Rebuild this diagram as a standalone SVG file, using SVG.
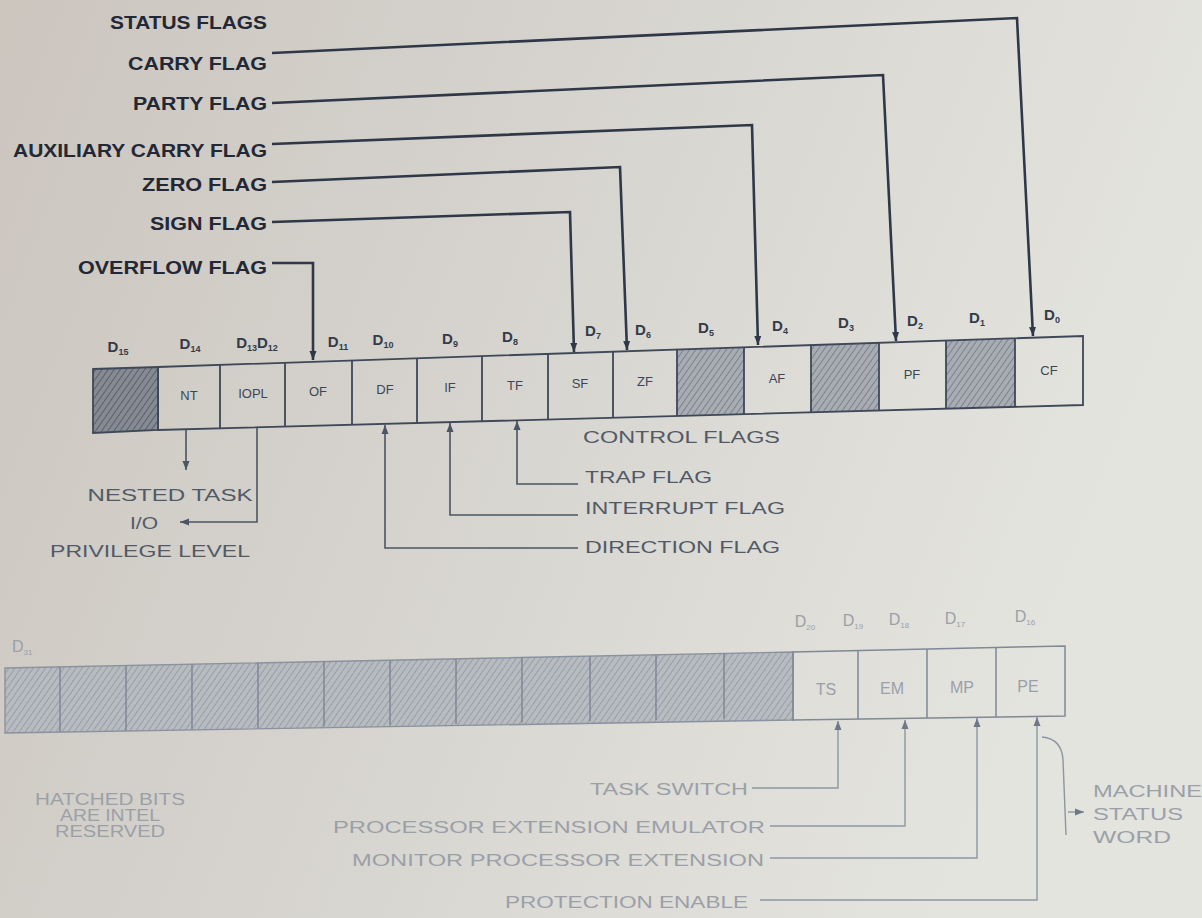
<svg xmlns="http://www.w3.org/2000/svg" width="1202" height="918" viewBox="0 0 1202 918">
<defs>
<linearGradient id="bg" x1="0" y1="0" x2="1" y2="0.3">
<stop offset="0" stop-color="#cbc5be"/>
<stop offset="0.55" stop-color="#d8d6d1"/>
<stop offset="1" stop-color="#e4e4df"/>
</linearGradient>
<pattern id="hatchDark" width="5" height="5" patternUnits="userSpaceOnUse" patternTransform="rotate(35)">
<rect width="5" height="5" fill="#868a92"/>
<line x1="0" y1="0" x2="0" y2="5" stroke="#5a606c" stroke-width="2"/>
</pattern>
<pattern id="hatch" width="5" height="5" patternUnits="userSpaceOnUse" patternTransform="rotate(35)">
<rect width="5" height="5" fill="#a9adb3"/>
<line x1="0" y1="0" x2="0" y2="5" stroke="#6f7785" stroke-width="1.6"/>
</pattern>
<pattern id="hatchLight" width="5" height="5" patternUnits="userSpaceOnUse" patternTransform="rotate(35)">
<rect width="5" height="5" fill="#b8bbbf"/>
<line x1="0" y1="0" x2="0" y2="5" stroke="#9097a2" stroke-width="1.6"/>
</pattern>
<marker id="arr" markerWidth="10" markerHeight="10" refX="9" refY="5" orient="auto" markerUnits="userSpaceOnUse">
<path d="M0,1.5 L9,5 L0,8.5 Z" fill="#2e3848"/>
</marker>
<marker id="arrMid" markerWidth="10" markerHeight="10" refX="9" refY="5" orient="auto" markerUnits="userSpaceOnUse">
<path d="M0,1.5 L9,5 L0,8.5 Z" fill="#4b5564"/>
</marker>
<marker id="arrFaint" markerWidth="10" markerHeight="10" refX="9" refY="5" orient="auto" markerUnits="userSpaceOnUse">
<path d="M0,1.5 L9,5 L0,8.5 Z" fill="#6f7889"/>
</marker>
</defs>
<style>
.lbl{font-family:"Liberation Sans",Arial,sans-serif;font-weight:bold;font-size:18px;fill:#232836;text-anchor:end}
.dl{font-family:"Liberation Sans",Arial,sans-serif;font-weight:bold;font-size:15px;fill:#343b4a;text-anchor:middle}
.sub{font-size:9px}
.cell{font-family:"Liberation Sans",Arial,sans-serif;font-size:13px;fill:#3d4656;text-anchor:middle}
.mid{font-family:"Liberation Sans",Arial,sans-serif;font-size:16px;fill:#525a68}
.faint{font-family:"Liberation Sans",Arial,sans-serif;font-size:16px;fill:#9ba0a8}
.conn{fill:none;stroke:#2e3848;stroke-width:2.6;marker-end:url(#arr)}
.connMid{fill:none;stroke:#4b5564;stroke-width:1.6;marker-end:url(#arrMid)}
.connFaint{fill:none;stroke:#8e96a3;stroke-width:1.4;marker-end:url(#arrFaint)}
.box{fill:none;stroke:#3e4858;stroke-width:1.8}
.boxF{fill:none;stroke:#7f8896;stroke-width:1.5}
</style>
<rect width="1202" height="918" fill="url(#bg)"/>

<g id="flag-labels">
<text class="lbl" x="267" y="29" textLength="157" lengthAdjust="spacingAndGlyphs">STATUS FLAGS</text>
<text class="lbl" x="267" y="70" textLength="139" lengthAdjust="spacingAndGlyphs">CARRY FLAG</text>
<text class="lbl" x="267" y="110" textLength="134" lengthAdjust="spacingAndGlyphs">PARTY FLAG</text>
<text class="lbl" x="267" y="157" textLength="254" lengthAdjust="spacingAndGlyphs">AUXILIARY CARRY FLAG</text>
<text class="lbl" x="267" y="191" textLength="125" lengthAdjust="spacingAndGlyphs">ZERO FLAG</text>
<text class="lbl" x="267" y="230" textLength="117" lengthAdjust="spacingAndGlyphs">SIGN FLAG</text>
<text class="lbl" x="267" y="274" textLength="189" lengthAdjust="spacingAndGlyphs">OVERFLOW FLAG</text>
</g>

<g id="bit-labels">
<text class="dl" x="118" y="352">D<tspan class="sub" dy="3">15</tspan></text>
<text class="dl" x="190" y="349">D<tspan class="sub" dy="3">14</tspan></text>
<text class="dl" x="257" y="348">D<tspan class="sub" dy="3">13</tspan><tspan dy="-3">D</tspan><tspan class="sub" dy="3">12</tspan></text>
<text class="dl" x="338" y="347">D<tspan class="sub" dy="3">11</tspan></text>
<text class="dl" x="383" y="345">D<tspan class="sub" dy="3">10</tspan></text>
<text class="dl" x="450" y="344">D<tspan class="sub" dy="3">9</tspan></text>
<text class="dl" x="510" y="342">D<tspan class="sub" dy="3">8</tspan></text>
<text class="dl" x="593" y="336">D<tspan class="sub" dy="3">7</tspan></text>
<text class="dl" x="643" y="335">D<tspan class="sub" dy="3">6</tspan></text>
<text class="dl" x="706" y="333">D<tspan class="sub" dy="3">5</tspan></text>
<text class="dl" x="780" y="331">D<tspan class="sub" dy="3">4</tspan></text>
<text class="dl" x="846" y="328">D<tspan class="sub" dy="3">3</tspan></text>
<text class="dl" x="915" y="326">D<tspan class="sub" dy="3">2</tspan></text>
<text class="dl" x="977" y="323">D<tspan class="sub" dy="3">1</tspan></text>
<text class="dl" x="1052" y="320">D<tspan class="sub" dy="3">0</tspan></text>
</g>

<g id="flags-register">
<polygon points="93,369 158,367 158,430 93,433" fill="url(#hatchDark)" stroke="#3e4858" stroke-width="1.8"/>
<polygon points="677,349.6 744,347.4 744,414.2 677,416" fill="url(#hatch)"/>
<polygon points="811,345.1 879,342.8 879,410.5 811,412.4" fill="url(#hatch)"/>
<polygon points="946,340.6 1015,338.3 1015,406.9 946,408.7" fill="url(#hatch)"/>
<polygon class="box" points="158,367 1083,336 1083,405 158,430"/>
<path class="box" d="M220,364.9V428.3 M285,362.7V426.6 M352,360.5V424.8 M417,358.3V423 M482,356.1V421.3 M548,353.9V419.5 M613,351.8V417.7 M677,349.6V416 M744,347.4V414.2 M811,345.1V412.4 M879,342.8V410.5 M946,340.6V408.7 M1015,338.3V406.9"/>
<text class="cell" x="189" y="400">NT</text>
<text class="cell" x="253" y="398" font-size="11">IOPL</text>
<text class="cell" x="318" y="396">OF</text>
<text class="cell" x="385" y="394">DF</text>
<text class="cell" x="450" y="392">IF</text>
<text class="cell" x="515" y="390">TF</text>
<text class="cell" x="580" y="388">SF</text>
<text class="cell" x="645" y="386">ZF</text>
<text class="cell" x="777" y="383">AF</text>
<text class="cell" x="912" y="379">PF</text>
<text class="cell" x="1049" y="375">CF</text>
</g>

<g id="connectors">
<polyline class="conn" points="272,53 1017,18 1033,336"/>
<polyline class="conn" points="272,103 883,75 896,341"/>
<polyline class="conn" points="272,144 752,125 758,345"/>
<polyline class="conn" points="272,182 620,167 627,350"/>
<polyline class="conn" points="272,222 570,212 574,352"/>
<polyline class="conn" points="272,263 313,263 313,360"/>
<polyline class="connMid" points="186,430 186,470"/>
<polyline class="connMid" points="257,428 257,522 180,522"/>
<polyline class="connMid" points="578,548 385,548 385,425"/>
<polyline class="connMid" points="578,515 450,515 450,423"/>
<polyline class="connMid" points="578,484 517,484 517,421"/>
<polyline class="connFaint" points="752,788 838,788 838,721"/>
<polyline class="connFaint" points="770,826 905,826 905,720"/>
<polyline class="connFaint" points="770,858 977,858 977,718"/>
<polyline class="connFaint" points="760,900 1037,900 1037,717"/>
<path d="M1042,737 Q1062,739 1063,760 L1066,835" fill="none" stroke="#8e96a3" stroke-width="1.4"/>
<polyline class="connFaint" points="1068,812 1084,812"/>
</g>

<g id="control-labels">
<text class="mid" x="583" y="443" textLength="197" lengthAdjust="spacingAndGlyphs">CONTROL FLAGS</text>
<text class="mid" x="585" y="483" textLength="127" lengthAdjust="spacingAndGlyphs">TRAP FLAG</text>
<text class="mid" x="585" y="514" textLength="200" lengthAdjust="spacingAndGlyphs">INTERRUPT FLAG</text>
<text class="mid" x="585" y="553" textLength="195" lengthAdjust="spacingAndGlyphs">DIRECTION FLAG</text>
<text class="mid" x="170" y="501" text-anchor="middle" textLength="165" lengthAdjust="spacingAndGlyphs">NESTED TASK</text>
<text class="mid" x="130" y="529" textLength="28" lengthAdjust="spacingAndGlyphs">I/O</text>
<text class="mid" x="150" y="557" text-anchor="middle" textLength="200" lengthAdjust="spacingAndGlyphs">PRIVILEGE LEVEL</text>
</g>

<g id="msw-register">
<text class="faint" x="12" y="652" font-size="13">D<tspan font-size="8" dy="3">31</tspan></text>
<polygon points="5,668 793,652 793,720 5,733" fill="url(#hatchLight)" stroke="#8a929e" stroke-width="1.4"/>
<path class="boxF" d="M60,667V732 M126,665.6V730.6 M192,664.3V729.3 M258,663V728 M324,661.6V726.6 M390,660.3V725.3 M456,659V724 M522,657.6V722.6 M590,656.2V721.3 M656,654.9V720 M724,653.5V718.6"/>
<polygon class="boxF" points="793,652 1065,646 1065,716 793,720"/>
<path class="boxF" d="M858,650.6V719 M927,649.1V718 M996,647.6V717"/>
<text class="faint" x="826" y="695" text-anchor="middle" font-size="13">TS</text>
<text class="faint" x="892" y="694" text-anchor="middle" font-size="13">EM</text>
<text class="faint" x="962" y="693" text-anchor="middle" font-size="13">MP</text>
<text class="faint" x="1028" y="692" text-anchor="middle" font-size="13">PE</text>
<text class="faint" x="805" y="627" text-anchor="middle" font-size="14">D<tspan font-size="8" dy="3">20</tspan></text>
<text class="faint" x="853" y="626" text-anchor="middle" font-size="14">D<tspan font-size="8" dy="3">19</tspan></text>
<text class="faint" x="899" y="625" text-anchor="middle" font-size="14">D<tspan font-size="8" dy="3">18</tspan></text>
<text class="faint" x="955" y="624" text-anchor="middle" font-size="14">D<tspan font-size="8" dy="3">17</tspan></text>
<text class="faint" x="1025" y="622" text-anchor="middle" font-size="14">D<tspan font-size="8" dy="3">16</tspan></text>
</g>

<g id="msw-labels">
<text class="faint" x="590" y="795" textLength="158" lengthAdjust="spacingAndGlyphs">TASK SWITCH</text>
<text class="faint" x="333" y="833" textLength="432" lengthAdjust="spacingAndGlyphs">PROCESSOR EXTENSION EMULATOR</text>
<text class="faint" x="352" y="866" textLength="412" lengthAdjust="spacingAndGlyphs">MONITOR PROCESSOR EXTENSION</text>
<text class="faint" x="505" y="908" textLength="243" lengthAdjust="spacingAndGlyphs">PROTECTION ENABLE</text>
<text class="faint" x="1093" y="797" textLength="109" lengthAdjust="spacingAndGlyphs">MACHINE</text>
<text class="faint" x="1093" y="820" textLength="90" lengthAdjust="spacingAndGlyphs">STATUS</text>
<text class="faint" x="1093" y="843" textLength="78" lengthAdjust="spacingAndGlyphs">WORD</text>
<text class="faint" x="110" y="805" text-anchor="middle" fill="#8f8b8e" textLength="150" lengthAdjust="spacingAndGlyphs">HATCHED BITS</text>
<text class="faint" x="110" y="821" text-anchor="middle" fill="#8f8b8e" textLength="100" lengthAdjust="spacingAndGlyphs">ARE INTEL</text>
<text class="faint" x="110" y="837" text-anchor="middle" fill="#8f8b8e" textLength="110" lengthAdjust="spacingAndGlyphs">RESERVED</text>
</g>
</svg>
